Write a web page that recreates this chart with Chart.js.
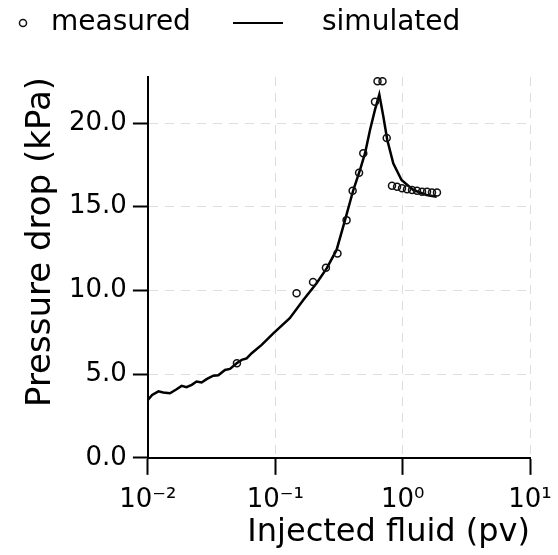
<!DOCTYPE html>
<html>
<head>
<meta charset="utf-8">
<script src="https://cdn.jsdelivr.net/npm/chart.js@4.4.1/dist/chart.umd.min.js"></script>
<style>
  html, body { margin: 0; padding: 0; background: #fff; }
  #wrap { width: 558px; height: 555px; }
</style>
</head>
<body>
<div id="wrap"><canvas id="chart" width="558" height="555"></canvas></div>
<script>
// simulated curve (injected fluid in pv, pressure drop in kPa)
const simX = [0.01, 0.0108, 0.0121, 0.0132, 0.0149, 0.0168, 0.0184, 0.0201, 0.0221, 0.0241,
  0.0264, 0.0289, 0.0326, 0.0357, 0.0403, 0.0441, 0.0498, 0.0545, 0.0596, 0.0653,
  0.0782, 0.0965, 0.13, 0.166, 0.211, 0.254, 0.303, 0.353, 0.41, 0.463,
  0.507, 0.555, 0.607, 0.656, 0.705, 0.757, 0.844, 0.98, 1.21, 1.54, 1.85];
const simY = [3.46, 3.76, 3.97, 3.90, 3.86, 4.10, 4.30, 4.22, 4.36, 4.56,
  4.50, 4.70, 4.91, 4.93, 5.25, 5.31, 5.65, 5.85, 5.94, 6.25,
  6.75, 7.44, 8.34, 9.43, 10.43, 11.33, 12.42, 14.2, 16.0, 17.2,
  18.2, 19.6, 20.8, 21.7, 20.4, 19.0, 17.6, 16.6, 16.0, 15.7, 15.6];

// measured points
const measX = [0.05, 0.147, 0.198, 0.25, 0.308, 0.363, 0.405, 0.455, 0.491, 0.607,
  0.635, 0.695, 0.75, 0.825, 0.904, 0.989, 1.083, 1.185, 1.297, 1.42, 1.555, 1.70, 1.86];
const measY = [5.65, 9.83, 10.5, 11.36, 12.2, 14.2, 15.96, 17.03, 18.19, 21.27,
  22.5, 22.5, 19.1, 16.25, 16.2, 16.1, 16.05, 16.0, 15.95, 15.9, 15.9, 15.85, 15.85];

const xTicks = [0.01, 0.1, 1, 10];
const xTickLabels = ['10\u207B\u00B2', '10\u207B\u00B9', '10\u2070', '10\u00B9'];
const yTicks = [0, 5, 10, 15, 20];

const FONT = "'DejaVu Sans', sans-serif";
const faint = 'rgba(0,0,0,0.13)';

// legend swatch for the line
const lineSwatch = document.createElement('canvas');
lineSwatch.width = 50;
lineSwatch.height = 2;
const lctx = lineSwatch.getContext('2d');
lctx.fillStyle = '#000';
lctx.fillRect(0, 0, 50, 2);

// push the plot area down below the legend
const legendGap = {
  id: 'legendGap',
  beforeInit(chart) {
    const fit = chart.legend.fit;
    chart.legend.fit = function () {
      fit.call(this);
      this.height += 30;
    };
  }
};

new Chart(document.getElementById('chart'), {
  type: 'scatter',
  data: {
    datasets: [
      {
        label: 'measured',
        data: measX.map((x, i) => ({ x: x, y: measY[i] })),
        showLine: false,
        pointStyle: 'circle',
        pointRadius: 3.5,
        borderWidth: 1.5,
        borderColor: '#111',
        backgroundColor: 'rgba(255,255,255,0)',
        order: 0
      },
      {
        label: 'simulated',
        data: simX.map((x, i) => ({ x: x, y: simY[i] })),
        showLine: true,
        pointRadius: 0,
        borderWidth: 2.5,
        borderColor: '#000',
        backgroundColor: '#000',
        tension: 0,
        order: 1
      }
    ]
  },
  options: {
    responsive: false,
    animation: false,
    layout: { padding: { left: 0, right: 28, top: 0, bottom: 0 } },
    plugins: {
      tooltip: { enabled: false },
      legend: {
        position: 'top',
        align: 'start',
        labels: {
          usePointStyle: true,
          boxWidth: 28,
          boxHeight: 5,
          padding: 9,
          color: '#000',
          font: { family: FONT, size: 28 },
          generateLabels(chart) {
            const items = Chart.defaults.plugins.legend.labels.generateLabels(chart);
            items[0].text = 'measured     ';
            items[0].fillStyle = 'rgba(255,255,255,0)';
            items[0].lineWidth = 1.5;
            items[1].text = '    simulated';
            items[1].pointStyle = lineSwatch;
            return items;
          }
        }
      }
    },
    scales: {
      x: {
        type: 'logarithmic',
        min: 0.01,
        max: 10,
        afterBuildTicks(scale) {
          scale.ticks = xTicks.map(v => ({ value: v }));
        },
        ticks: {
          autoSkip: false,
          maxRotation: 0,
          padding: 6,
          color: '#000',
          font: { family: FONT, size: 26, lineHeight: 1.46 },
          callback: (v, i) => xTickLabels[i]
        },
        grid: {
          color: faint,
          lineWidth: 1,
          tickColor: '#000',
          tickWidth: 2,
          tickLength: 17
        },
        border: { color: '#000', width: 2, dash: [9, 7] },
        title: {
          display: true,
          text: 'Injected fluid (pv)',
          align: 'end',
          color: '#000',
          font: { family: FONT, size: 32, lineHeight: 0.475 },
          padding: { top: 0, bottom: 15 }
        }
      },
      y: {
        min: 0,
        max: 22.75,
        afterBuildTicks(scale) {
          scale.ticks = yTicks.map(v => ({ value: v }));
        },
        ticks: {
          padding: 6,
          color: '#000',
          font: { family: FONT, size: 26 },
          callback: v => v.toFixed(1)
        },
        grid: {
          color: faint,
          lineWidth: 1,
          tickColor: '#000',
          tickWidth: 2,
          tickLength: 15
        },
        border: { color: '#000', width: 2, dash: [9, 7] },
        title: {
          display: true,
          text: 'Pressure drop (kPa)',
          align: 'end',
          color: '#000',
          font: { family: FONT, size: 34, lineHeight: 1.0 },
          padding: { top: 24, bottom: 5 }
        }
      }
    }
  },
  plugins: [legendGap]
});
</script>
</body>
</html>
